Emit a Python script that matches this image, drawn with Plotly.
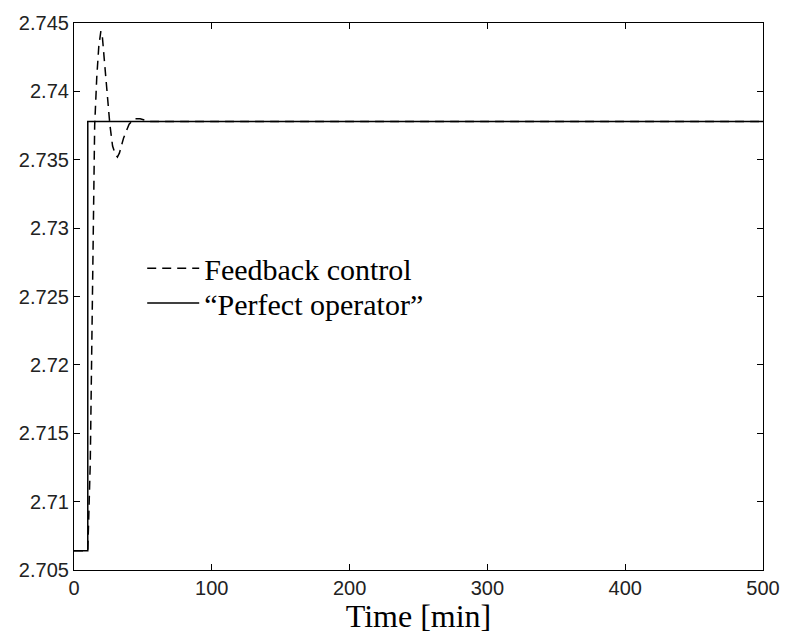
import plotly.graph_objects as go

# Data
t_feedback = [0, 10, 11.8, 13, 14, 15, 16.5, 18, 19.5, 20.5, 22, 24, 26, 28, 30, 31.5, 33, 36, 40, 44, 48, 55, 60, 500]
y_feedback = [2.7064, 2.7064, 2.7128, 2.7230, 2.7330, 2.7375, 2.7410, 2.7433, 2.7444, 2.7441,
              2.7423, 2.7398, 2.7376, 2.7360, 2.7354, 2.7352, 2.7355, 2.7366, 2.7376, 2.7380,
              2.7380, 2.7378, 2.7378, 2.7378]
t_perfect = [0, 10, 10, 500]
y_perfect = [2.7064, 2.7064, 2.7378, 2.7378]

x_ticks = [0, 100, 200, 300, 400, 500]
y_ticks = [2.705, 2.71, 2.715, 2.72, 2.725, 2.73, 2.735, 2.74, 2.745]
y_tick_text = ["2.705", "2.71", "2.715", "2.72", "2.725", "2.73", "2.735", "2.74", "2.745"]

serif = "Liberation Serif, Times New Roman, serif"
sans = "Liberation Sans, Arial, sans-serif"

fig = go.Figure()
fig.add_trace(go.Scatter(
    x=t_feedback, y=y_feedback, mode="lines", name="Feedback control",
    line=dict(color="black", width=1.5, dash="9px,6px"), legend="legend", showlegend=True))
fig.add_trace(go.Scatter(
    x=t_perfect, y=y_perfect, mode="lines", name="\u201cPerfect operator\u201d",
    line=dict(color="black", width=1.5), legend="legend2", showlegend=True))

axis_common = dict(
    showline=True, linecolor="black", linewidth=1.2, mirror="ticks",
    ticks="inside", ticklen=6, tickwidth=1, tickcolor="black",
    showgrid=False, zeroline=False,
    tickfont=dict(family=sans, size=20, color="#222"),
)

fig.update_layout(
    width=792, height=634,
    margin=dict(l=74, r=19, t=17, b=64),
    paper_bgcolor="white", plot_bgcolor="white",
    showlegend=True,
    xaxis=dict(range=[0, 500], tickvals=x_ticks, ticklabelstandoff=0,
               title=dict(text="Time [min]", font=dict(family=serif, size=32, color="black"), standoff=0),
               **axis_common),
    yaxis=dict(range=[2.705, 2.745], tickvals=y_ticks, ticktext=y_tick_text,
               **axis_common),
    legend=dict(x=0.099, y=0.5515, xanchor="left", yanchor="middle",
                bgcolor="rgba(0,0,0,0)", borderwidth=0, itemwidth=52,
                font=dict(family=serif, size=30, color="black")),
    legend2=dict(x=0.099, y=0.4882, xanchor="left", yanchor="middle",
                 bgcolor="rgba(0,0,0,0)", borderwidth=0, itemwidth=52,
                 font=dict(family=serif, size=30, color="black")),
)

fig.write_html("out.html")
